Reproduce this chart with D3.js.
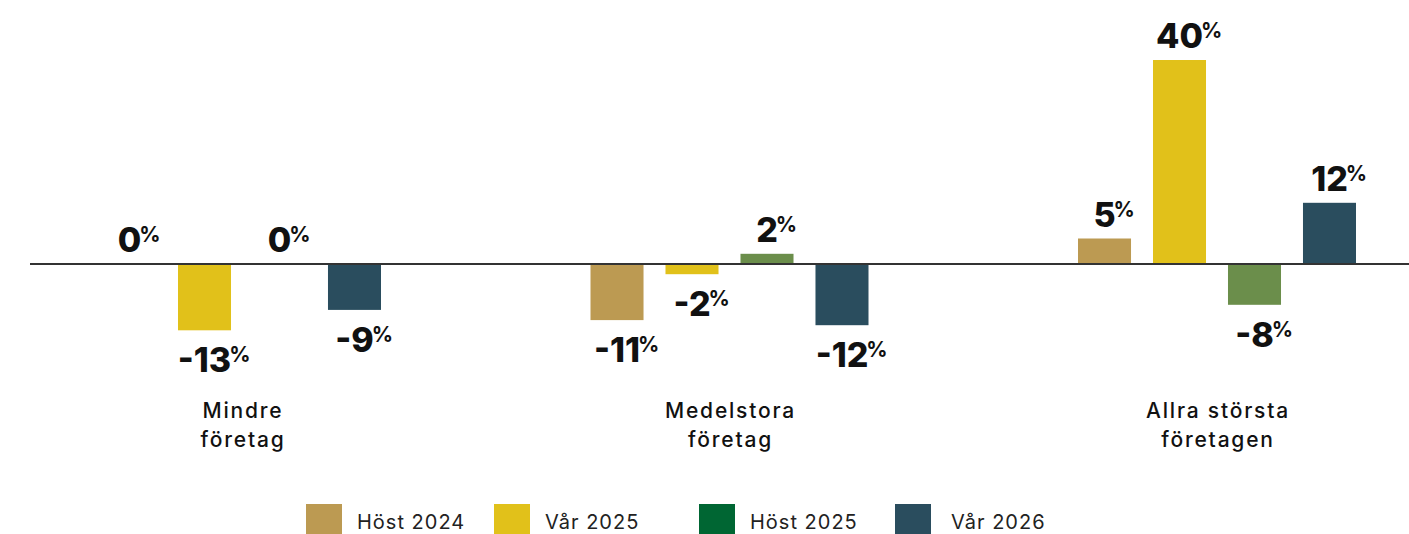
<!DOCTYPE html>
<html lang="sv">
<head>
<meta charset="UTF-8" />
<title>Förändring per företagsstorlek</title>
<style>
  body { margin: 0; background: #fff; }
  svg { display: block; font-family: "Inter", "Lato", sans-serif; }
</style>
</head>
<body>
<div id="app"></div>
<script src="https://cdn.jsdelivr.net/npm/d3@7"></script>
<script>
// data
const groups = ["Mindre företag", "Medelstora företag", "Allra största företagen"];
const groupLines = [["Mindre", "företag"], ["Medelstora", "företag"], ["Allra största", "företagen"]];
const series = ["Höst 2024", "Vår 2025", "Höst 2025", "Vår 2026"];
const host2024 = [0, -11, 5];
const var2025 = [-13, -2, 40];
const host2025 = [0, 2, -8];
const var2026 = [-9, -12, 12];

const barColors = ["#bc9a52", "#e1c11a", "#6b8e4b", "#2a4d5e"];
const legendColors = ["#bc9a52", "#e1c11a", "#006633", "#2a4d5e"];

const w = 1409;
const h = 534;

const svg = d3.select("#app").append("svg")
  .attr("width", w)
  .attr("height", h);

// scales
const x0 = d3.scalePoint().domain(groups).range([242, 1217]);
const x1 = d3.scaleBand().domain(series).range([-139, 139]).paddingInner(0.293);
const y = d3.scaleLinear().domain([-20, 40]).range([366, 60]);

const allValues = [host2024, var2025, host2025, var2026];
const rows = [];
groups.forEach((g, gi) => {
  series.forEach((s, si) => {
    rows.push({ group: g, serie: s, si: si, value: allValues[si][gi] });
  });
});

// bars
svg.append("g")
  .selectAll("rect")
  .data(rows)
  .enter()
  .append("rect")
  .attr("x", d => x0(d.group) + x1(d.serie))
  .attr("y", d => y(Math.max(0, d.value)))
  .attr("width", x1.bandwidth())
  .attr("height", d => Math.abs(y(d.value) - y(0)))
  .attr("fill", d => barColors[d.si]);

// zero line
svg.append("line")
  .attr("x1", 30).attr("x2", w)
  .attr("y1", y(0)).attr("y2", y(0))
  .attr("stroke", "#333")
  .attr("stroke-width", 2);

// value labels
const labels = svg.append("g")
  .selectAll("text")
  .data(rows)
  .enter()
  .append("text")
  .attr("font-size", 34)
  .attr("font-weight", 800)
  .attr("fill", "#111")
  .attr("y", d => d.value < 0 ? y(d.value) + 42 : y(d.value) - 12)
  .text(d => d.value);

labels.each(function(d) {
  const t = d3.select(this);
  const tw = this.getComputedTextLength();
  t.attr("x", x0(d.group) + x1(d.serie) + x1.bandwidth() / 2 - tw / 2);
  t.append("tspan")
    .attr("font-size", 21)
    .attr("font-weight", 700)
    .attr("dx", -2)
    .attr("dy", -10)
    .text("%");
});

// category labels
svg.append("g")
  .selectAll("text")
  .data(groups)
  .enter()
  .append("text")
  .attr("text-anchor", "middle")
  .attr("font-size", 21)
  .attr("font-weight", 500)
  .attr("letter-spacing", 1.8)
  .attr("fill", "#111")
  .each(function(g, i) {
    d3.select(this).selectAll("tspan")
      .data(groupLines[i])
      .enter()
      .append("tspan")
      .attr("x", x0(g) + 1)
      .attr("y", (l, j) => 418 + j * 29)
      .text(l => l);
  });

// legend
const legendX = [306, 494, 699, 895];
const legend = svg.append("g")
  .selectAll("g")
  .data(series)
  .enter()
  .append("g")
  .attr("transform", (d, i) => "translate(" + legendX[i] + ",504)");
legend.append("rect")
  .attr("width", 36)
  .attr("height", 30)
  .attr("fill", (d, i) => legendColors[i]);
legend.append("text")
  .attr("x", (d, i) => i == 3 ? 56 : 51)
  .attr("y", 25)
  .attr("font-size", 20)
  .attr("letter-spacing", 1)
  .attr("fill", "#222")
  .text(d => d);
</script>
</body>
</html>
